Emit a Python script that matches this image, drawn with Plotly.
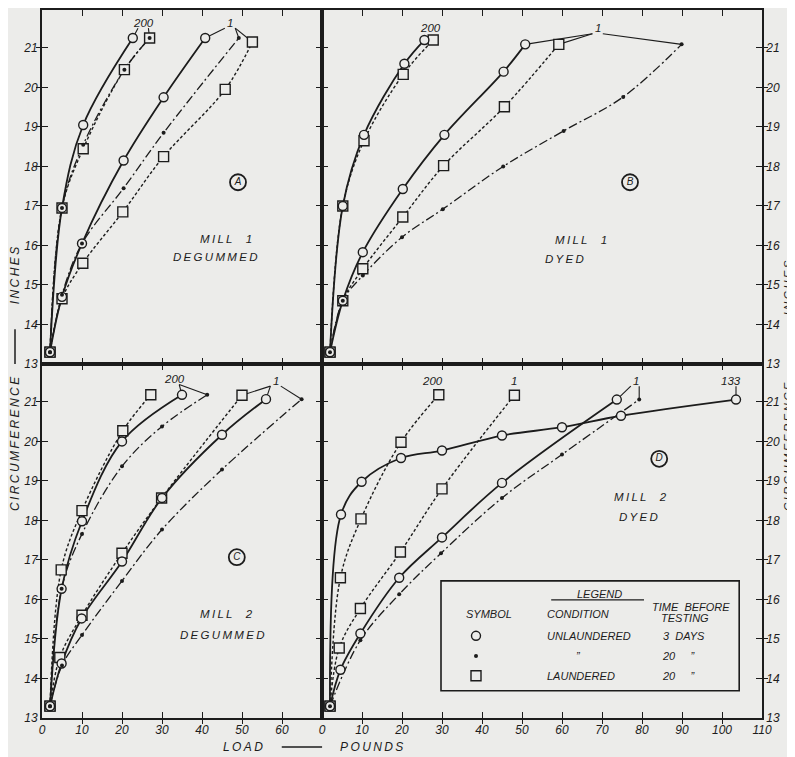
import plotly.graph_objects as go
from plotly.subplots import make_subplots

BG = "#ececea"
INK = "#1c1c1c"
FONT = "Liberation Sans"

# ---------------- data: load (pounds) vs circumference (inches) ----------------
# Panel A - Mill 1, degummed
A200_u3_x = [2, 5, 10.3, 22.7]
A200_u3_y = [13.3, 16.95, 19.05, 21.25]
A200_u20_x = [2, 5, 10.3, 20.6, 26.9]
A200_u20_y = [13.3, 16.95, 18.55, 20.45, 21.25]
A200_la_x = [2, 5, 10.3, 20.6, 26.9]
A200_la_y = [13.3, 16.95, 18.45, 20.45, 21.25]
A1_u3_x = [2, 5, 10, 20.4, 30.4, 40.8]
A1_u3_y = [13.3, 14.7, 16.05, 18.15, 19.75, 21.25]
A1_u20_x = [2, 5, 10, 20.4, 30.4, 49.2]
A1_u20_y = [13.3, 14.75, 16.05, 17.45, 18.85, 21.25]
A1_la_x = [2, 5, 10.2, 20.2, 30.4, 45.8, 52.6]
A1_la_y = [13.3, 14.65, 15.55, 16.85, 18.25, 19.95, 21.15]

# Panel B - Mill 1, dyed
B200_u3_x = [2, 5.2, 10.5, 20.6, 25.6]
B200_u3_y = [13.3, 17.0, 18.8, 20.6, 21.2]
B200_la_x = [2, 5.2, 10.5, 20.3, 27.8]
B200_la_y = [13.3, 17.0, 18.65, 20.33, 21.2]
B1_u3_x = [2, 5.2, 10.2, 20.2, 30.6, 45.4, 50.8]
B1_u3_y = [13.3, 14.6, 15.83, 17.43, 18.8, 20.4, 21.09]
B1_u20_x = [2, 5.2, 10.2, 20, 30.2, 45.3, 60.4, 75.3, 89.9]
B1_u20_y = [13.3, 14.6, 15.24, 16.21, 16.92, 18.0, 18.9, 19.76, 21.09]
B1_la_x = [2, 5.2, 10.2, 20.2, 30.4, 45.6, 59.2]
B1_la_y = [13.3, 14.6, 15.41, 16.72, 18.02, 19.51, 21.09]

# Panel C - Mill 2, degummed
C200_u3_x = [2, 4.9, 10, 20, 35]
C200_u3_y = [13.3, 16.27, 17.98, 20.0, 21.18]
C200_u20_x = [2, 4.9, 10, 20, 30, 41.3]
C200_u20_y = [13.3, 16.27, 17.66, 19.37, 20.38, 21.18]
C200_la_x = [2, 4.8, 10, 20.2, 27.2]
C200_la_y = [13.3, 16.75, 18.25, 20.27, 21.18]
C1_u3_x = [2, 4.9, 9.9, 20, 30, 45, 56]
C1_u3_y = [13.3, 14.38, 15.52, 16.96, 18.57, 20.17, 21.07]
C1_u20_x = [2, 5, 10, 20, 30, 45, 64.9]
C1_u20_y = [13.3, 14.33, 15.1, 16.47, 17.77, 19.29, 21.07]
C1_la_x = [2, 4.45, 10, 20, 29.9, 50]
C1_la_y = [13.3, 14.53, 15.6, 17.17, 18.57, 21.17]

# Panel D - Mill 2, dyed
D133_u3_x = [2, 4.75, 9.9, 19.75, 30, 45, 60, 74.75, 103.5]
D133_u3_y = [13.3, 18.15, 18.98, 19.58, 19.77, 20.15, 20.36, 20.65, 21.06]
D200_la_x = [2, 4.6, 9.75, 19.75, 29.2]
D200_la_y = [13.3, 16.55, 18.04, 19.98, 21.18]
D1_la_x = [2, 4.3, 9.6, 19.6, 30, 48.1]
D1_la_y = [13.3, 14.77, 15.77, 17.2, 18.8, 21.17]
D1_u3_x = [2, 4.6, 9.6, 19.3, 30, 45, 73.7]
D1_u3_y = [13.3, 14.22, 15.14, 16.55, 17.57, 18.95, 21.06]
D1_u20_x = [2, 9.6, 19.3, 29.75, 45, 60, 79.3]
D1_u20_y = [13.3, 14.97, 16.13, 17.17, 18.57, 19.67, 21.06]

# axis ticks
X_TICKS_LEFT = [0, 10, 20, 30, 40, 50, 60]
X_TICKS_RIGHT = [0, 10, 20, 30, 40, 50, 60, 70, 80, 90, 100, 110]
Y_TICKS = [13, 14, 15, 16, 17, 18, 19, 20, 21]

# ---------------- series -> panels ----------------
PANELS = {
    "A": (1, 1, "x", "y"),
    "B": (1, 2, "x2", "y2"),
    "C": (2, 1, "x3", "y3"),
    "D": (2, 2, "x4", "y4"),
}
SERIES = [
    ("A", "la", A200_la_x, A200_la_y), ("A", "u3", A200_u3_x, A200_u3_y), ("A", "u20", A200_u20_x, A200_u20_y),
    ("A", "la", A1_la_x, A1_la_y), ("A", "u3", A1_u3_x, A1_u3_y), ("A", "u20", A1_u20_x, A1_u20_y),
    ("B", "la", B200_la_x, B200_la_y), ("B", "u3", B200_u3_x, B200_u3_y),
    ("B", "la", B1_la_x, B1_la_y), ("B", "u3", B1_u3_x, B1_u3_y), ("B", "u20", B1_u20_x, B1_u20_y),
    ("C", "la", C200_la_x, C200_la_y), ("C", "u3", C200_u3_x, C200_u3_y), ("C", "u20", C200_u20_x, C200_u20_y),
    ("C", "la", C1_la_x, C1_la_y), ("C", "u3", C1_u3_x, C1_u3_y), ("C", "u20", C1_u20_x, C1_u20_y),
    ("D", "la", D200_la_x, D200_la_y), ("D", "la", D1_la_x, D1_la_y),
    ("D", "u3", D133_u3_x, D133_u3_y), ("D", "u3", D1_u3_x, D1_u3_y), ("D", "u20", D1_u20_x, D1_u20_y),
]

LINE_STYLE = {
    "u3": dict(color=INK, width=1.8, dash="solid"),
    "u20": dict(color=INK, width=1.3, dash="9px,3px,2px,3px"),
    "la": dict(color=INK, width=1.4, dash="3px,2.2px"),
}
MARKER_STYLE = {
    "la": dict(symbol="square", size=10, color=BG, line=dict(color=INK, width=1.4)),
    "u3": dict(symbol="circle", size=9, color=BG, line=dict(color=INK, width=1.4)),
    "u20": dict(symbol="circle", size=4, color=INK, line=dict(width=0)),
}

# curve labels: panel, text, x, y, targets (series whose end the leader points at)
LABELS = [
    ("A", "200", 25.3, 21.64, [(A200_u3_x, A200_u3_y), (A200_la_x, A200_la_y)]),
    ("A", "1", 47.0, 21.64, [(A1_u3_x, A1_u3_y), (A1_u20_x, A1_u20_y), (A1_la_x, A1_la_y)]),
    ("B", "200", 27.2, 21.5, []),
    ("B", "1", 68.9, 21.5, [(B1_u3_x, B1_u3_y), (B1_la_x, B1_la_y), (B1_u20_x, B1_u20_y)]),
    ("C", "200", 33.0, 21.58, [(C200_u3_x, C200_u3_y), (C200_u20_x, C200_u20_y)]),
    ("C", "1", 58.4, 21.54, [(C1_la_x, C1_la_y), (C1_u3_x, C1_u3_y), (C1_u20_x, C1_u20_y)]),
    ("D", "200", 27.7, 21.53, []),
    ("D", "1", 48.0, 21.53, []),
    ("D", "1", 78.5, 21.54, [(D1_u3_x, D1_u3_y), (D1_u20_x, D1_u20_y)]),
    ("D", "133", 102.3, 21.54, [(D133_u3_x, D133_u3_y)]),
]

CIRCLED = [("A", "A", 49.0, 17.6), ("B", "B", 77.0, 17.6), ("C", "C", 48.7, 17.07), ("D", "D", 84.3, 19.56)]
PANEL_TEXT = [
    ("A", "MILL  1", 46.0, 16.17), ("A", "DEGUMMED", 43.3, 15.7),
    ("B", "MILL  1", 64.7, 16.15), ("B", "DYED", 60.6, 15.66),
    ("C", "MILL  2", 46.0, 15.62), ("C", "DEGUMMED", 45.0, 15.11),
    ("D", "MILL  2", 79.7, 18.6), ("D", "DYED", 79.2, 18.08),
]

# legend (drawn inside panel D)
LEG_SYM_X = 38.5
LEG_ROWS_Y = [15.08, 14.57, 14.07]
LEG_KINDS = ["u3", "u20", "la"]
LEG_COND = ["UNLAUNDERED", "\u201d", "LAUNDERED"]
LEG_COND_X = [66.7, 64.2, 64.75]
LEG_TIME = ["3  DAYS", "20     \u201d", "20     \u201d"]
LEG_TIME_X = [90.6, 89.2, 89.2]


def sp(s):
    return "\u2009".join(s)


def tfont(size=11.5):
    return dict(family=FONT, size=size, color=INK, style="italic")


fig = make_subplots(rows=2, cols=2, column_widths=[70, 110],
                    horizontal_spacing=0, vertical_spacing=0)

# lines first
for pan, kind, xs, ys in SERIES:
    r, c, _, _ = PANELS[pan]
    fig.add_trace(go.Scatter(x=xs, y=ys, mode="lines", line=LINE_STYLE[kind],
                             line_shape="spline", hoverinfo="skip", showlegend=False), row=r, col=c)
# markers: squares, circles, dots
for k in ["la", "u3", "u20"]:
    for pan, kind, xs, ys in SERIES:
        if kind != k:
            continue
        r, c, _, _ = PANELS[pan]
        fig.add_trace(go.Scatter(x=xs, y=ys, mode="markers", marker=MARKER_STYLE[kind],
                                 hoverinfo="skip", showlegend=False, cliponaxis=False), row=r, col=c)

annotations = []
shapes = []

for pan, txt, lx, ly, targets in LABELS:
    _, _, xr, yr = PANELS[pan]
    annotations.append(dict(x=lx, y=ly, xref=xr, yref=yr, text=txt, showarrow=False, font=tfont(11.5)))
    for xs, ys in targets:
        tx, ty = xs[-1], ys[-1]
        dx = max(-1.3, min(1.3, tx - lx))
        shapes.append(dict(type="line", xref=xr, yref=yr, x0=lx + dx, y0=ly - 0.14, x1=tx, y1=ty,
                           line=dict(color=INK, width=1.1), layer="below"))

for pan, letter, cx, cy in CIRCLED:
    r, c, _, _ = PANELS[pan]
    fig.add_trace(go.Scatter(x=[cx], y=[cy], mode="markers+text", text=[letter],
                             textposition="middle center", textfont=tfont(10),
                             marker=dict(symbol="circle-open", size=16, color=INK, line=dict(width=1.8)),
                             hoverinfo="skip", showlegend=False), row=r, col=c)

for pan, txt, x, y in PANEL_TEXT:
    _, _, xr, yr = PANELS[pan]
    annotations.append(dict(x=x, y=y, xref=xr, yref=yr, text=sp(txt), showarrow=False, font=tfont(11.5)))

# legend box
shapes.append(dict(type="rect", xref="x4", yref="y4", x0=29.75, x1=104.3, y0=13.69, y1=16.47,
                   line=dict(color=INK, width=1.6), fillcolor=BG, layer="below"))
shapes.append(dict(type="line", xref="x4", yref="y4", x0=57.3, x1=80.5, y0=15.99, y1=15.99,
                   line=dict(color=INK, width=1.1)))
for txt, x, y in [("LEGEND", 69.3, 16.13), ("SYMBOL", 41.8, 15.62), ("CONDITION", 63.9, 15.62),
                  ("TIME  BEFORE", 92.2, 15.82), ("TESTING", 90.8, 15.53)]:
    annotations.append(dict(x=x, y=y, xref="x4", yref="y4", text=txt, showarrow=False, font=tfont(11)))
for kind, yv, cond, cx, tm, tx in zip(LEG_KINDS, LEG_ROWS_Y, LEG_COND, LEG_COND_X, LEG_TIME, LEG_TIME_X):
    fig.add_trace(go.Scatter(x=[LEG_SYM_X], y=[yv], mode="markers", marker=MARKER_STYLE[kind],
                             hoverinfo="skip", showlegend=False), row=2, col=2)
    annotations.append(dict(x=cx, y=yv, xref="x4", yref="y4", text=cond, showarrow=False, font=tfont(11)))
    annotations.append(dict(x=tx, y=yv, xref="x4", yref="y4", text=tm, showarrow=False, font=tfont(11)))

# axis titles (paper coordinates)
RX = 1.0365
for txt, x, y, ang, fs in [("INCHES", -0.0375, 0.624, -90, 12), ("CIRCUMFERENCE", -0.0375, 0.387, -90, 12),
                           ("INCHES", RX, 0.607, -90, 11.5), ("CIRCUMFERENCE", RX, 0.383, -90, 11.5),
                           ("LOAD", 0.279, -0.0408, 0, 12), ("POUNDS", 0.458, -0.0408, 0, 12)]:
    annotations.append(dict(x=x, y=y, xref="paper", yref="paper", text=sp(txt), textangle=ang,
                            xanchor="center", yanchor="middle", showarrow=False, font=tfont(fs)))
shapes += [
    dict(type="line", xref="paper", yref="paper", x0=-0.0375, x1=-0.0375, y0=0.50, y1=0.549, line=dict(color=INK, width=1.5)),
    dict(type="line", xref="paper", yref="paper", x0=RX, x1=RX, y0=0.508, y1=0.546, line=dict(color=INK, width=1.5)),
    dict(type="line", xref="paper", yref="paper", x0=0.333, x1=0.389, y0=-0.0408, y1=-0.0408, line=dict(color=INK, width=1.5)),
]


def axis_style(vals):
    return dict(showline=True, linecolor=INK, linewidth=1.8, mirror="ticks", ticks="inside",
                ticklen=6, tickwidth=1.3, tickcolor=INK, showgrid=False, zeroline=False,
                tickfont=tfont(12), fixedrange=True,
                minor=dict(ticks="outside", tickmode="array", tickvals=[v + 0.004 for v in vals],
                           ticklen=4, tickwidth=1.3, tickcolor=INK, showgrid=False))


fig.update_xaxes(range=[0, 70], tickvals=X_TICKS_LEFT, showticklabels=False, row=1, col=1, **axis_style(X_TICKS_LEFT))
fig.update_xaxes(range=[0, 110], tickvals=X_TICKS_RIGHT, showticklabels=False, row=1, col=2, **axis_style(X_TICKS_RIGHT))
fig.update_xaxes(range=[0, 70], tickvals=X_TICKS_LEFT, row=2, col=1, **axis_style(X_TICKS_LEFT))
fig.update_xaxes(range=[0, 110], tickvals=X_TICKS_RIGHT, row=2, col=2, **axis_style(X_TICKS_RIGHT))
fig.update_yaxes(range=[13, 21.96], tickvals=Y_TICKS, row=1, col=1, **axis_style(Y_TICKS))
fig.update_yaxes(range=[13, 21.96], tickvals=Y_TICKS, row=2, col=1, **axis_style(Y_TICKS))
fig.update_yaxes(range=[13, 21.96], tickvals=Y_TICKS, side="right", row=1, col=2, **axis_style(Y_TICKS))
fig.update_yaxes(range=[13, 21.96], tickvals=Y_TICKS, side="right", row=2, col=2, **axis_style(Y_TICKS))

# page body adds an 8px offset; size the figure so the plot area lands where the reference has it
fig.update_layout(
    width=787, height=749,
    margin=dict(l=34, r=33, t=0, b=39),
    paper_bgcolor=BG, plot_bgcolor=BG,
    font=tfont(12),
    annotations=annotations, shapes=shapes,
    showlegend=False,
)

fig.write_html("out.html")
